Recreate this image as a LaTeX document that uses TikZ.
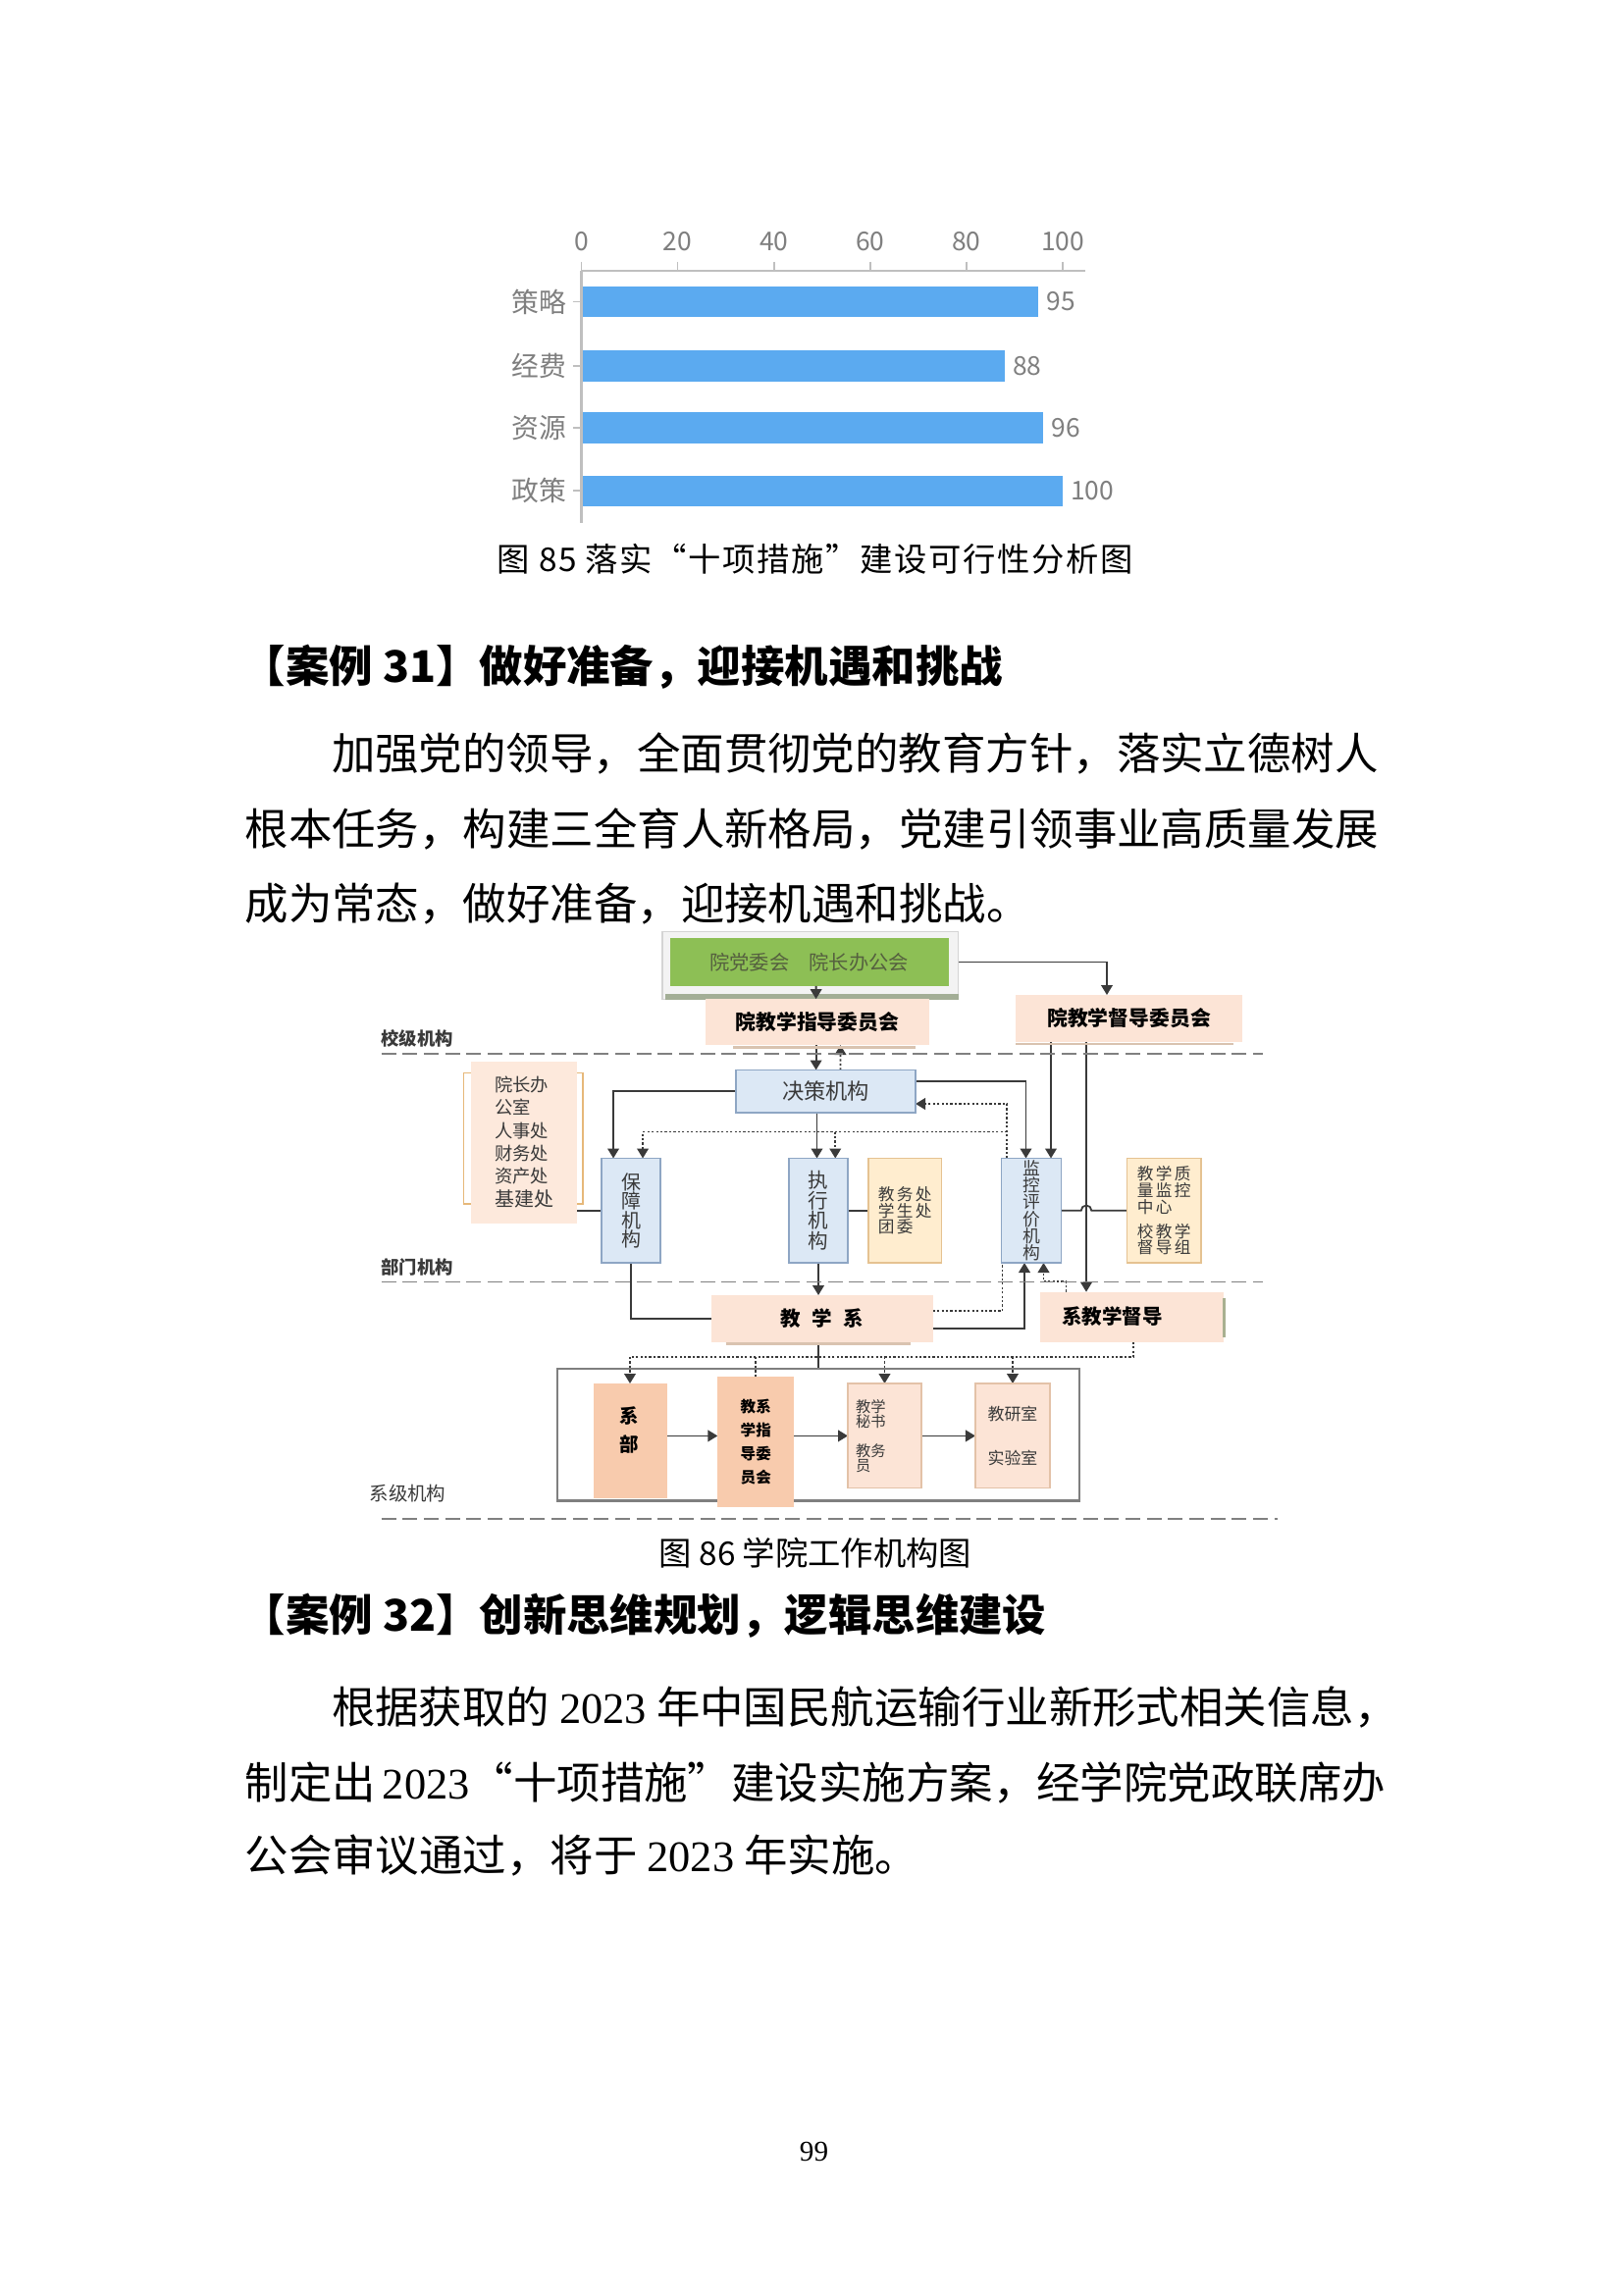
\documentclass[tikz,border=0pt]{standalone}
\usepackage{fontspec}
\setmainfont{Noto Sans CJK SC}
\newfontfamily\cjkls{Noto Sans CJK SC}[LetterSpace=14]
\newfontfamily\cjkcap{Noto Sans CJK SC}[LetterSpace=5]
\newfontfamily\lserif{Liberation Serif}
\usetikzlibrary{arrows.meta,calc}
\setlength{\lineskiplimit}{-100pt}
\pgfdeclarelayer{back}
\pgfdeclarelayer{bg}
\pgfsetlayers{back,bg,main}
\newcommand\fs[2]{\fontsize{#1}{#2}\selectfont}
\newcommand\dg[1]{{\lserif #1}}
\definecolor{peach}{HTML}{FCE4D6}
\definecolor{peachl}{HTML}{FDE9DC}
\definecolor{peachd}{HTML}{F8CBAD}
\definecolor{peachbd}{HTML}{E3C2A8}
\definecolor{bluef}{HTML}{DCE8F5}
\definecolor{blued}{HTML}{8EA6C4}
\definecolor{yel}{HTML}{FFEDCF}
\definecolor{yeld}{HTML}{E5C291}
\definecolor{grn}{HTML}{8DBF55}
\definecolor{grntxt}{HTML}{55603F}
\definecolor{framef}{HTML}{F3F3F3}
\definecolor{framed}{HTML}{D4D4D4}
\definecolor{framestrip}{HTML}{A3AE96}
\definecolor{barblue}{HTML}{5BAAF0}
\definecolor{axisg}{HTML}{BFBFBF}
\definecolor{lblg}{HTML}{7F7F7F}
\definecolor{linec}{HTML}{3A3A3A}
\definecolor{txtg}{HTML}{3A3A3A}
\definecolor{brkc}{HTML}{E6B87A}
\definecolor{shadowc}{HTML}{D9C3B0}
\definecolor{edgec}{HTML}{A8B090}
\definecolor{contg}{HTML}{7F7F7F}
\definecolor{sepc}{HTML}{808080}
\begin{document}
\begin{tikzpicture}[x=0.54pt,y=-0.54pt,
  sz/.style 2 args={minimum width=#1*0.54pt, minimum height=#2*0.54pt},
  box/.style={inner sep=0pt, outer sep=0pt, align=center, text=black},
  blueb/.style={box, draw=blued, fill=bluef, line width=0.6pt, text=txtg},
  peachb/.style={box, fill=peach},
  yelb/.style={box, draw=yeld, fill=yel, line width=0.5pt, align=left, text=txtg},
  conn/.style={draw=linec, line width=0.65pt},
  arr/.style={conn, -{Triangle[length=3.6pt,width=4.2pt]}},
  dotc/.style={conn, dash pattern=on 0.8pt off 0.8pt},
  darr/.style={dotc, -{Triangle[length=3.6pt,width=4.2pt]}},
  sepl/.style={draw=sepc, line width=0.7pt, dash pattern=on 5.4pt off 2.4pt},
  tklbl/.style={font=\fs{9.5}{10}, text=lblg, inner sep=0pt},
  body/.style={anchor=west, inner sep=0pt, font=\fs{16}{16}},
  head/.style={anchor=west, inner sep=0pt, font=\fs{16}{16}\bfseries},
  lab/.style={inner sep=0pt, font=\fs{6.6}{7}\bfseries, text=txtg},
  bt/.style={inner sep=0pt, align=center}]
\begin{pgfonlayer}{back}
\fill[white] (0,0) rectangle (1102.67,1559.33);
\end{pgfonlayer}
\useasboundingbox (0,0) rectangle (1102.67,1559.33);

% ---------------- bar chart ----------------
\draw[axisg, line width=0.8pt] (395,184) -- (737,184);
\draw[axisg, line width=0.8pt] (395,184) -- (395,355);
\foreach \v in {0,20,40,60,80,100} {
  \draw[axisg, line width=0.6pt] ({395+3.27*\v},178) -- ({395+3.27*\v},184);
  \node[tklbl] (tk\v) at ({395+3.27*\v},164) {\v};
}
\foreach \cat/\v/\yy/\k in {策略/95/205/a, 经费/88/248.5/b, 资源/96/290.5/c, 政策/100/333.5/d} {
  \fill[barblue] (396,{\yy-10.5}) rectangle ({395+3.27*\v},{\yy+10.5});
  \draw[axisg, line width=0.6pt] (389,\yy) -- (395,\yy);
  \node[tklbl, anchor=east, font=\fs{10}{10}] (cat\k) at (385,\yy) {\cat};
  \node[tklbl, anchor=west] (val\k) at ({395+3.27*\v+5},\yy) {\v};
}
\node[inner sep=0pt, font=\cjkcap\fs{12}{12}] (cap85) at (554,380) {图 85 落实“十项措施”建设可行性分析图};

% ---------------- text 31 ----------------
\node[head] (h31) at (164,453) {【案例 31】做好准备，迎接机遇和挑战};
\node[body] (p1a) at (225,512) {加强党的领导，全面贯彻党的教育方针，落实立德树人};
\node[body] (p1b) at (166,563.5) {根本任务，构建三全育人新格局，党建引领事业高质量发展};
\node[body] (p1c) at (166,614) {成为常态，做好准备，迎接机遇和挑战。};

% ---------------- org chart ----------------
\draw[sepl] (259,716) -- (858,716);
\draw[sepl] (259,871) -- (858,871);
\draw[sepl] (259,1032) -- (868,1032);
\node[lab] (xiaoji) at (283.5,705.6) {校级机构};
\node[lab] (bumen) at (283.5,861) {部门机构};
\node[inner sep=0pt, font=\fs{7}{7}, text=txtg] (xiji) at (277,1014.5) {系级机构};

\node[box, sz={201}{46}, fill=framef, draw=framed, line width=0.4pt] (frame) at (550.5,656) {};
\fill[framestrip] (452,675) rectangle (651,679.5);
\node[box, sz={189.4}{32.7}, fill=grn, text=grntxt, font=\fs{7.3}{8}] (dangwei) at (549.7,653.6) {院党委会　院长办公会};
\node[peachb, sz={152}{31.3}, font=\fs{7.5}{8}\bfseries] (zhidao) at (555.3,694.4) {院教学指导委员会};
\draw[shadowc, line width=1pt] ($(zhidao.south west)+(18.7,1.5)$) -- ($(zhidao.south east)+(-9.3,1.5)$);
\node[peachb, sz={154}{32}, font=\fs{7.5}{8}\bfseries] (dudaowei) at (767,692) {院教学督导委员会};
\draw[shadowc, line width=0.8pt] ($(dudaowei.south west)+(0,1.2)$) -- ($(dudaowei.south east)+(-6,1.2)$);
\draw[arr] ($(dangwei.south)+(4.7,0)$) -- ($(zhidao.north)+(-0.9,0)$);

\node[blueb, sz={122}{29}, font=\fs{8}{9}] (juece) at (561,741.5) {决策机构};

\node[peachb, fill=peachl, sz={72}{110}, align=left, font=\fs{6.6}{8.4}, text=txtg] (renshi) at (356,776) {院长办\\公室\\人事处\\财务处\\资产处\\{\fs{7.2}{8.4}基建处}};
\draw[brkc, line width=0.6pt] ($(renshi.north west)+(0,8)$) -- ++(-5,0) -- ($(renshi.south west)+(-5,-13)$) -- ++(5,0);
\draw[brkc, line width=0.6pt] ($(renshi.north east)+(0,8)$) -- ++(4,0) -- ($(renshi.south east)+(4,-13)$) -- ++(-4,0);

\node[blueb, sz={40}{71}, font=\fs{7.2}{7}] (baozhang) at (428.7,822.5) {保\\障\\机\\构};
\node[blueb, sz={40}{71}, font=\fs{7.4}{7.4}] (zhixing) at (556,822.5) {执\\行\\机\\构};
\node[yelb, sz={49.6}{71}, font=\cjkls\fs{6}{5.9}] (jiaowu) at (614.8,822.5) {教务处\\学生处\\团委};
\node[blueb, sz={40.6}{71}, font=\fs{6.4}{6.2}] (jiankong) at (700.7,822.5) {监\\控\\评\\价\\机\\构};
\node[yelb, sz={50.5}{71}, font=\cjkls\fs{6}{6}] (zhiliang) at (790.75,822.5) {教学质\\量监控\\中心\\[3pt]校教学\\督导组};

\node[peachb, sz={150.7}{31.8}, font=\fs{7.4}{8}\bfseries] (jiaoxuexi) at (558.4,895.9) {教\hspace{4pt}学\hspace{4pt}系};
\draw[shadowc, line width=0.8pt] ($(jiaoxuexi.south west)+(10,1.2)$) -- ($(jiaoxuexi.south east)+(-15,1.2)$);
\node[peachb, sz={125.3}{34}] (xidudao) at (769,894.8) {};
\node[bt, font=\fs{7.4}{8}\bfseries] (xidudaot) at (755.7,894.4) {系教学督导};
\draw[edgec, line width=0.8pt] ($(xidudao.north east)+(0,4)$) -- ($(xidudao.south east)+(0,-3)$);

\node[box, draw=contg, line width=0.9pt, sz={354.7}{89.8}] (rongqi) at (556,974.9) {};
\node[box, fill=peachd, sz={50}{78}] (xibu) at (428,979) {};
\node[bt, font=\fs{7}{10.3}\bfseries] (xibut) at (427.6,971.6) {系\\部};
\node[box, fill=peachd, sz={51.9}{88.4}, font=\fs{5.6}{8.6}\bfseries] (xizhidao) at (513.5,979.8) {教系\\学指\\导委\\员会};
\node[box, fill=peach, draw=peachbd, line width=0.5pt, sz={50}{71}] (mishu) at (601,975.5) {};
\node[bt, anchor=west, align=left, font=\fs{5.5}{5.4}, text=txtg] (mishut) at (581,975.6) {教学\\秘书\\[5.4pt]教务\\员};
\node[box, fill=peach, draw=peachbd, line width=0.5pt, sz={50.7}{71}, font=\fs{6.1}{16}, text=txtg] (jiaoyan) at (688,975.5) {教研室\\实验室};

\begin{pgfonlayer}{bg}
\draw[arr] (dangwei.east) -| ($(dudaowei.north)+(-15,0)$);
\draw[arr] ($(zhidao.south)+(-0.9,0)$) -- ($(juece.north)+(-6.6,0)$);
\draw[darr] ($(juece.north)+(10,0)$) -- ($(zhidao.south)+(15.7,0)$);
\draw[arr] (juece.west) -| ($(baozhang.north)+(-12,0)$);
\draw[darr] ($(jiankong.north west)+(3.8,0)$) |- ($(juece.east)+(0,8.5)$);
\coordinate (dv) at ($(jiankong.north west)+(3.8,-18)$);
\draw[darr] (dv) -| ($(baozhang.north)+(8,0)$);
\draw[darr] ($(zhixing.north)+(11.5,-18)$) -- ($(zhixing.north)+(11.5,0)$);
\draw[arr] ($(juece.south)+(-6,0)$) -- ($(zhixing.north)+(-1,0)$);
\draw[arr] ($(juece.east)+(0,-7)$) -| ($(jiankong.north)+(-3.7,0)$);
\draw[arr] ($(dudaowei.south)+(-53,0)$) -- ($(jiankong.north)+(13.3,0)$);
\draw[arr] ($(dudaowei.south)+(-29,0)$) coordinate (l1) -- (l1 |- xidudao.north);
\draw[conn] (renshi.east |- baozhang.west) -- (baozhang.west);
\draw[conn] (zhixing.east) -- (jiaowu.west);
\draw[conn] (jiankong.east) -- ($(l1 |- jiankong.east)+(-3.5,0)$) arc[start angle=180, end angle=0, radius=1.9pt] -- (zhiliang.west);
\draw[conn] (baozhang.south) |- (jiaoxuexi.west);
\draw[arr] (zhixing.south) -- (zhixing.south |- jiaoxuexi.north);
\draw[dotc] ($(jiaoxuexi.east)+(0,-5)$) -| ($(jiankong.south west)+(0.6,0)$);
\draw[arr] ($(jiaoxuexi.east)+(0,7)$) -| ($(jiankong.south)+(-4.7,0)$);
\draw[darr] ($(xidudao.north west)+(18,0)$) -- ++(0,-7) -| ($(jiankong.south)+(8.3,0)$);
\draw[dotc] ($(xidudao.south)+(1,0)$) -- ++(0,10.2) coordinate (hr) -- (hr -| xibu.north);
\foreach \n in {xibu,mishu,jiaoyan} \draw[darr] (hr -| \n.north) -- (\n.north);
\draw[dotc] (hr -| xizhidao.north) -- (xizhidao.north);
\draw[conn] ($(jiaoxuexi.south)+(-2.6,0)$) -- ($(jiaoxuexi.south |- rongqi.north)+(-2.6,0)$);
\draw[arr] ($(xibu.east)+(0,-3.4)$) coordinate (a1) -- (a1 -| xizhidao.west);
\draw[arr] (a1 -| xizhidao.east) -- (a1 -| mishu.west);
\draw[arr] (a1 -| mishu.east) -- (a1 -| jiaoyan.west);
\end{pgfonlayer}

\node[inner sep=0pt, font=\fs{12}{12}] (cap86) at (554,1055) {图 86 学院工作机构图};

% ---------------- text 32 ----------------
\node[head] (h32) at (164,1097.5) {【案例 32】创新思维规划，逻辑思维建设};
\node[body] (p2a) at (225,1160) {根据获取的 \dg{2023} 年中国民航运输行业新形式相关信息，};
\node[body] (p2b) at (166,1211) {制定出\hspace{2.5pt}\dg{2023}“十项措施”建设实施方案，经学院党政联席办};
\node[body] (p2c) at (166,1261) {公会审议通过，将于 \dg{2023} 年实施。};

\node[inner sep=0pt, font=\lserif\fs{10.5}{12}] (pg) at (553,1462) {99};
\end{tikzpicture}
\end{document}
